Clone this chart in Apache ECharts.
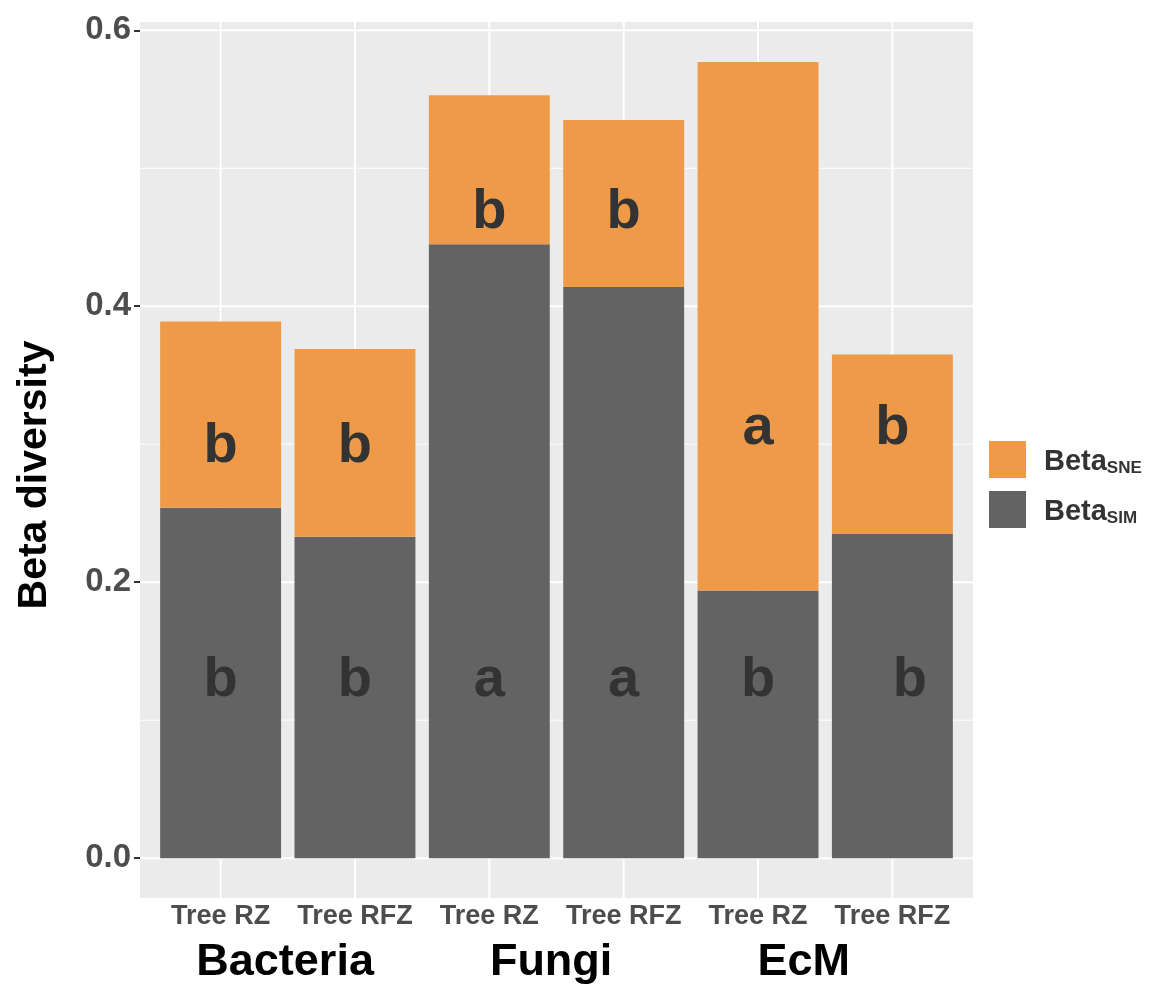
<!DOCTYPE html>
<html>
<head>
<meta charset="utf-8">
<script src="https://cdn.jsdelivr.net/npm/echarts@6/dist/echarts.min.js"></script>
<style>
html,body{margin:0;padding:0;background:#fff;}
#chart{width:1150px;height:985px;}
</style>
</head>
<body>
<div id="chart"></div>
<script>
// ---- data ----
const categories = ['Tree RZ', 'Tree RFZ', 'Tree RZ', 'Tree RFZ', 'Tree RZ', 'Tree RFZ'];
const groups = ['Bacteria', 'Fungi', 'EcM'];
const groupPos = [0.48, 2.46, 4.34];
const betaSIM = [0.254, 0.233, 0.445, 0.414, 0.194, 0.235];
const betaSNE = [0.135, 0.136, 0.108, 0.121, 0.383, 0.130];
const simLetters = ['b', 'b', 'a', 'a', 'b', 'b'];
const simLetterX = [0, 1, 2, 3, 4, 5.13];
const simLetterY = [0.129, 0.129, 0.129, 0.129, 0.129, 0.129];
const sneLetters = ['b', 'b', 'b', 'b', 'a', 'b'];
const sneLetterX = [0, 1, 2, 3, 4, 5];
const sneLetterY = [0.298, 0.298, 0.468, 0.468, 0.311, 0.311];
const yTicks = [0, 0.2, 0.4, 0.6];
const yMinor = [0.1, 0.3, 0.5];

const FONT = '"Liberation Sans", Arial, Helvetica, sans-serif';
const idx = categories.map((c, i) => i);
const BAR_W = 0.9; // bar width in category units

const chart = echarts.init(document.getElementById('chart'), null, {renderer: 'canvas'});

function gridLines(params, api) {
  const cs = params.coordSys;
  const kind = api.value(0);
  const v = api.value(1);
  if (kind === 2) {
    const x = api.coord([v, 0])[0];
    return {type: 'line', shape: {x1: x, y1: cs.y, x2: x, y2: cs.y + cs.height},
      style: {stroke: '#ffffff', lineWidth: 2}};
  }
  const y = api.coord([0, v])[1];
  return {type: 'line', shape: {x1: cs.x, y1: y, x2: cs.x + cs.width, y2: y},
    style: {stroke: '#ffffff', lineWidth: kind === 0 ? 2 : 1}};
}

// stacked bar segment: data item [x, base, value]
function stackedBar(params, api) {
  const x = api.value(0), base = api.value(1), val = api.value(2);
  const p0 = api.coord([x - BAR_W / 2, base]);
  const p1 = api.coord([x + BAR_W / 2, base + val]);
  return {type: 'rect',
    shape: {x: p0[0], y: p1[1], width: p1[0] - p0[0], height: p0[1] - p1[1]},
    style: {fill: api.visual('color')}};
}

const gridData = []
  .concat(yTicks.map(v => [0, v]))
  .concat(yMinor.map(v => [1, v]))
  .concat(idx.map(v => [2, v]));

const letterLabel = {show: true, position: 'inside', formatter: p => p.data[2],
  fontSize: 56, fontWeight: 'bold', color: '#333333', opacity: 1,
  textBorderWidth: 0, fontFamily: FONT};

const option = {
  animation: false,
  backgroundColor: '#ffffff',
  textStyle: {fontFamily: FONT},
  grid: {left: 140, right: 177, top: 22, bottom: 87, show: true,
    backgroundColor: '#EBEBEB', borderWidth: 0, containLabel: false,
    outerBoundsMode: 'none'},
  legend: {
    orient: 'vertical', left: 989, top: 441, padding: 0,
    itemWidth: 37, itemHeight: 37, itemGap: 13, icon: 'rect',
    data: ['SNE', 'SIM'],
    formatter: name => '{m|Beta}{s|' + name + '}',
    textStyle: {
      fontFamily: FONT,
      rich: {
        m: {fontSize: 29, fontWeight: 'bold', color: '#333333', fontFamily: FONT,
            lineHeight: 34, verticalAlign: 'bottom', padding: [0, 0, 0, 13]},
        s: {fontSize: 17, fontWeight: 'bold', color: '#333333', fontFamily: FONT,
            lineHeight: 13, verticalAlign: 'bottom'}
      }
    }
  },
  xAxis: [
    {
      type: 'value', min: -0.6, max: 5.6,
      axisLine: {show: false, onZero: false},
      splitLine: {show: false},
      axisTick: {show: false},
      axisLabel: {
        customValues: idx, margin: 5,
        formatter: v => categories[Math.round(v)],
        fontSize: 27, fontWeight: 'bold', color: '#4D4D4D', fontFamily: FONT
      }
    },
    {
      type: 'value', min: -0.6, max: 5.6, position: 'bottom',
      axisLine: {show: false, onZero: false},
      splitLine: {show: false},
      axisTick: {show: false},
      axisLabel: {
        customValues: groupPos, margin: 42,
        formatter: v => groups[groupPos.indexOf(v)],
        fontSize: 45, fontWeight: 'bold', color: '#000000', fontFamily: FONT
      }
    }
  ],
  yAxis: {
    type: 'value', min: -0.0289, max: 0.606,
    name: 'Beta diversity', nameLocation: 'middle', nameGap: 85, nameRotate: 90,
    nameTextStyle: {fontSize: 41, fontWeight: 'bold', color: '#000000', fontFamily: FONT,
      padding: [0, 30, 0, 0]},
    axisLine: {show: false, onZero: false},
    splitLine: {show: false},
    axisTick: {show: true, customValues: yTicks, length: 6,
      lineStyle: {color: '#333333', width: 2}},
    axisLabel: {
      customValues: yTicks, margin: 9,
      formatter: v => v.toFixed(1),
      fontSize: 33, fontWeight: 'bold', color: '#4D4D4D', fontFamily: FONT
    }
  },
  series: [
    {
      name: 'grid', type: 'custom', renderItem: gridLines, data: gridData,
      z: 1, silent: true, clip: true, encode: {x: 1, y: 1}
    },
    {
      name: 'SIM', type: 'custom', renderItem: stackedBar, z: 2, silent: true,
      itemStyle: {color: '#636363'},
      encode: {x: 0, y: 2},
      data: idx.map(i => [i, 0, betaSIM[i]])
    },
    {
      name: 'SNE', type: 'custom', renderItem: stackedBar, z: 2, silent: true,
      itemStyle: {color: '#EE9A49'},
      encode: {x: 0, y: 2},
      data: idx.map(i => [i, betaSIM[i], betaSNE[i]])
    },
    {
      name: 'lettersSIM', type: 'scatter', z: 5, symbolSize: 1, silent: true,
      itemStyle: {color: 'rgba(0,0,0,0)'},
      label: letterLabel,
      data: simLetters.map((l, i) => [simLetterX[i], simLetterY[i], l])
    },
    {
      name: 'lettersSNE', type: 'scatter', z: 5, symbolSize: 1, silent: true,
      itemStyle: {color: 'rgba(0,0,0,0)'},
      label: letterLabel,
      data: sneLetters.map((l, i) => [sneLetterX[i], sneLetterY[i], l])
    }
  ]
};
chart.setOption(option);
</script>
</body>
</html>
